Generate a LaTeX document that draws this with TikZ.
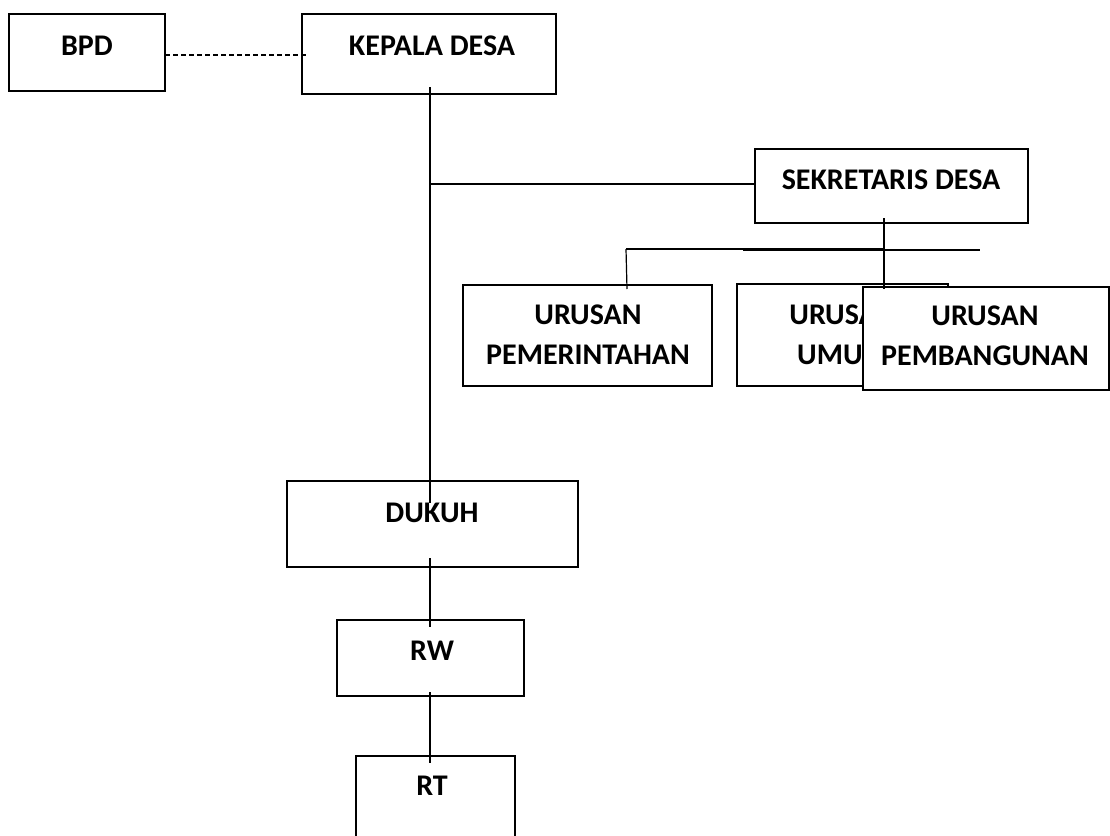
\documentclass[tikz,border=0pt]{standalone}
\usepackage{fontspec}
\setmainfont{Carlito}
\begin{document}
\begin{tikzpicture}[x=1pt,y=-1pt,
  box/.style={draw=black,line width=2.9pt,fill=white,rectangle,inner sep=0pt},
  lbl/.style={font=\bfseries\fontsize{30}{40}\selectfont,align=center,inner sep=0pt},
  thin/.style={line width=1.2pt},
  thick/.style={line width=2.8pt}]
\useasboundingbox (0,0) rectangle (1110,835);
\clip (0,0) rectangle (1110,835);
% boxes
\node[box,minimum width=156pt,minimum height=77pt] (bpd) at (87,52.5) {};
\node[box,minimum width=254pt,minimum height=80pt] (kd) at (429,54) {};
\node[box,minimum width=273pt,minimum height=74pt] (sd) at (891.5,186) {};
\node[box,minimum width=249pt,minimum height=101pt] (up) at (587.5,335.5) {};
\node[box,minimum width=211pt,minimum height=102pt] (uu) at (842.5,335) {};
\node[box,minimum width=291pt,minimum height=86pt] (dk) at (432.5,524) {};
\node[box,minimum width=187pt,minimum height=76pt] (rw) at (430.5,658) {};
\node[box,minimum width=159pt,minimum height=110pt] (rt) at (435.5,811) {};
% labels
\node[lbl] (tbpd) at (87,46) {BPD};
\node[lbl] (tkd) at (432,46) {KEPALA DESA};
\node[lbl] (tsd) at (891,180) {SEKRETARIS DESA};
\node[lbl] (tup) at (588,335) {URUSAN\\PEMERINTAHAN};
\node[lbl] (tdk) at (432,513) {DUKUH};
\node[lbl] (trw) at (432,651) {RW};
\node[lbl] (trt) at (432,786) {RT};
\node[lbl] (tuu) at (843,335) {URUSAN\\UMUM};
% the PEMBANGUNAN box is laid over the right part of the UMUM box
\node[box,minimum width=246pt,minimum height=103pt] (ub) at (986,338.5) {};
\node[lbl] (tub) at (985,336) {URUSAN\\PEMBANGUNAN};
% connectors
\coordinate (bpdr) at (165,55);
\coordinate (kdl) at (308,55);
\coordinate (kdb) at (430,87);
\coordinate (dkt) at (430,503);
\coordinate (jsd) at (430,184);
\coordinate (sdb) at (884,218);
\coordinate (sdj) at (884,289);
\coordinate (hl) at (626,249);
\coordinate (hm) at (884,249);
\coordinate (hm2) at (743,250);
\coordinate (hr) at (980,250);
\coordinate (upt) at (627,289);
\coordinate (dkb) at (430,558);
\coordinate (rwt) at (430,627);
\coordinate (rwb) at (430,692);
\coordinate (rtt) at (430,763);
\draw[thin,dash pattern=on 5pt off 3pt] (bpdr) -- (kdl);
\draw[thick] (kdb) -- (dkt);
\draw[thin] (jsd) -- (sd.west |- jsd);
\draw[thin] (hl) -- (hm);
\draw[thin] (hm2) -- (hr);
\draw[thin] (hl) -- (upt);
\draw[thin] (sdb) -- (sdj);
\draw[thin] (dkb) -- (rwt);
\draw[thin] (rwb) -- (rtt);
\end{tikzpicture}
\end{document}
